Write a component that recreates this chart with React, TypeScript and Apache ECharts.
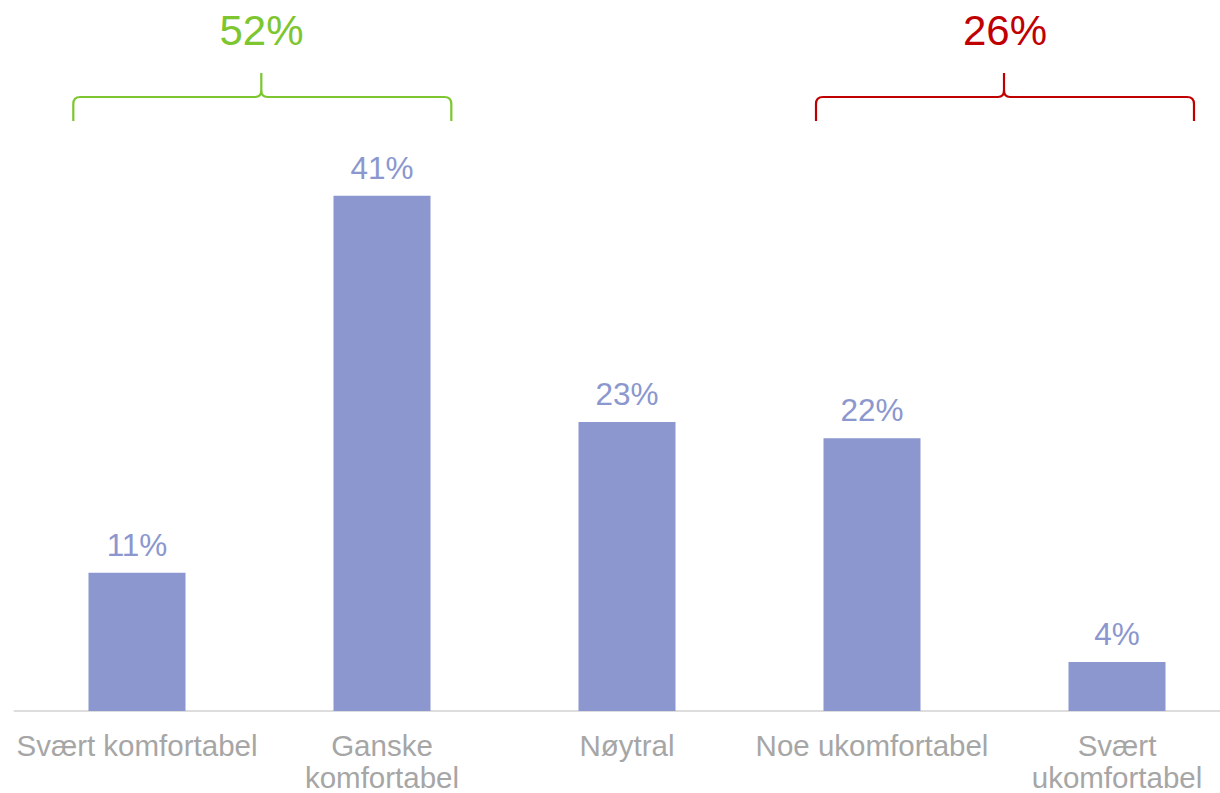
import React, { useEffect, useRef } from "react";
import * as echarts from "echarts";

const categories = [
  "Svært komfortabel",
  "Ganske\nkomfortabel",
  "Nøytral",
  "Noe ukomfortabel",
  "Svært\nukomfortabel",
];
const values = [11, 41, 23, 21.7, 3.9];
const groupLabels = ["52%", "26%"];
const groupColors = ["#7DC62F", "#C00000"];

const FONT = "'Liberation Sans', Arial, Helvetica, sans-serif";
const BAR_COLOR = "#8B97CE";

let registered = false;
function registerBrace() {
  if (registered) return;
  registered = true;
  const d =
    "M0,48 L0,31 Q0,24 7,24 L182,24 Q188,24 188,17 L188,0 L188,17 Q188,24 194,24 L371,24 Q378,24 378,31 L378,48";
  echarts.graphic.registerShape("brace", echarts.graphic.extendPath(d, {}));
}

export default function App() {
  const ref = useRef<HTMLDivElement>(null);
  useEffect(() => {
    if (!ref.current) return;
    registerBrace();
    const chart = echarts.init(ref.current, null, { renderer: "svg" });
    const braceX = [73.3, 816];
    const tipX = [261.5, 1005];
    chart.setOption({
      animation: false,
      backgroundColor: "#ffffff",
      grid: { left: 14.5, right: 0.5, top: 82.7, bottom: 81, containLabel: false },
      xAxis: {
        type: "category",
        data: categories,
        axisLine: { show: true, lineStyle: { color: "#DDDDDD", width: 2 } },
        axisTick: { show: false },
        axisLabel: {
          color: "#A6A6A6",
          fontSize: 29.5,
          fontFamily: FONT,
          lineHeight: 32,
          margin: 18,
          interval: 0,
        },
      },
      yAxis: {
        type: "value",
        min: 0,
        max: 50,
        show: false,
        splitLine: { show: false },
      },
      series: [
        {
          type: "bar",
          data: values,
          barWidth: 97,
          itemStyle: { color: BAR_COLOR },
          label: {
            show: true,
            position: "top",
            distance: 12,
            color: BAR_COLOR,
            fontSize: 31.5,
            fontFamily: FONT,
            formatter: (p: any) => Math.round(p.value) + "%",
          },
        },
      ],
      graphic: [
        ...groupLabels.map((t, i) => ({
          type: "brace",
          x: braceX[i],
          y: 73,
          style: { stroke: groupColors[i], lineWidth: 2.2, fill: "none" },
        })),
        ...groupLabels.map((t, i) => ({
          type: "text",
          x: tipX[i],
          y: 30,
          style: {
            text: t,
            fill: groupColors[i],
            fontSize: 42,
            fontFamily: FONT,
            align: "center",
            verticalAlign: "middle",
          },
        })),
      ],
    });
    return () => chart.dispose();
  }, []);
  return (
    <div
      style={{
        position: "fixed",
        left: 0,
        top: 0,
        width: 1220,
        height: 793,
        overflow: "hidden",
      }}
    >
      <div ref={ref} style={{ width: 1240, height: 793 }} />
    </div>
  );
}
